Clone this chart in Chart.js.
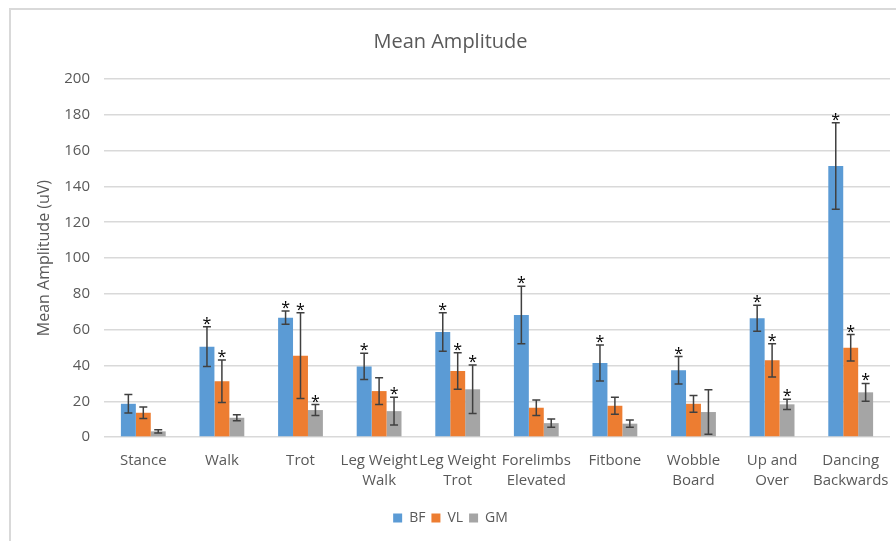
<!DOCTYPE html>
<html>
<head>
<meta charset="utf-8">
<script src="https://cdn.jsdelivr.net/npm/chart.js@4.4.0/dist/chart.umd.min.js"></script>
<style>
  html, body { margin: 0; padding: 0; background: #fff; overflow: hidden; }
  .wrap {
    position: absolute; left: 9px; top: 8px;
    width: 906px; height: 533px;
    border-top: 2px solid #d9d9d9; border-left: 2px solid #d9d9d9;
    box-sizing: border-box;
  }
</style>
</head>
<body>
<div class="wrap"><canvas id="chartBar"></canvas></div>
<script>
// Data kategori
const kategori = [
  "Stance", "Walk", "Trot", ["Leg Weight", "Walk"], ["Leg Weight", "Trot"],
  ["Forelimbs", "Elevated"], "Fitbone", ["Wobble", "Board"], ["Up and", "Over"],
  ["Dancing", "Backwards"]
];
// Nilai rata-rata tiap otot
const nilaiBF = [18.6, 50.5, 66.7, 39.5, 58.7, 68.2, 41.4, 37.3, 66.4, 151.4];
const nilaiVL = [13.6, 31.2, 45.5, 25.7, 36.9, 16.4, 17.5, 18.6, 42.9, 49.9];
const nilaiGM = [3.2, 10.8, 15.1, 14.5, 26.7, 7.8, 7.5, 14.0, 18.3, 25.0];
// Error bar (±)
const errBF = [5.2, 11.1, 3.7, 7.4, 10.7, 16.0, 10.0, 7.7, 7.3, 24.2];
const errVL = [3.2, 11.9, 24.0, 7.5, 10.2, 4.3, 4.7, 4.7, 9.3, 7.4];
const errGM = [0.9, 1.7, 3.1, 7.7, 13.5, 2.3, 2.0, 12.4, 2.9, 5.0];
// Tanda signifikan (*)
const sigBF = [0, 1, 1, 1, 1, 1, 1, 1, 1, 1];
const sigVL = [0, 1, 1, 0, 1, 0, 0, 0, 1, 1];
const sigGM = [0, 0, 1, 1, 1, 0, 0, 0, 1, 1];
// Tick sumbu Y
const tickMin = 0, tickMax = 200, tickStep = 20;

const warnaTeks = "#595959";

// Plugin untuk menggambar error bar dan tanda bintang
const errorBarPlugin = {
  id: "errorBars",
  afterDatasetsDraw(chart) {
    const ctx = chart.ctx;
    const yScale = chart.scales.y;
    chart.data.datasets.forEach((ds, di) => {
      const meta = chart.getDatasetMeta(di);
      meta.data.forEach((bar, i) => {
        const v = ds.data[i];
        const e = ds.errors[i];
        const yTop = yScale.getPixelForValue(v + e);
        const yBot = yScale.getPixelForValue(Math.max(v - e, 0));
        const x = bar.x;
        ctx.save();
        ctx.strokeStyle = "#404040";
        ctx.lineWidth = 1.5;
        ctx.beginPath();
        ctx.moveTo(x, yTop); ctx.lineTo(x, yBot);
        ctx.moveTo(x - 4, yTop); ctx.lineTo(x + 4, yTop);
        ctx.moveTo(x - 4, yBot); ctx.lineTo(x + 4, yBot);
        ctx.stroke();
        if (ds.sig[i]) {
          ctx.fillStyle = "#000";
          ctx.font = "16px 'Open Sans'";
          ctx.textAlign = "center";
          ctx.textBaseline = "alphabetic";
          ctx.fillText("*", x, yTop + 2);
        }
        ctx.restore();
      });
    });
  },
};

const data = {
  labels: kategori,
  datasets: [
    { label: "BF", data: nilaiBF, errors: errBF, sig: sigBF, backgroundColor: "#5B9BD5" },
    { label: "VL", data: nilaiVL, errors: errVL, sig: sigVL, backgroundColor: "#ED7D31" },
    { label: "GM", data: nilaiGM, errors: errGM, sig: sigGM, backgroundColor: "#A5A5A5" },
  ],
};

const chartBar = new Chart(document.getElementById("chartBar"), {
  type: "bar",
  data: data,
  options: {
    responsive: true,
    maintainAspectRatio: false,
    animation: false,
    layout: { padding: { left: 0, right: 25, top: 0, bottom: 6 } },
    datasets: { bar: { barPercentage: 1, categoryPercentage: 0.57 } },
    plugins: {
      title: {
        display: true,
        text: "Mean Amplitude",
        color: warnaTeks,
        font: { family: "Open Sans", size: 20, weight: "normal" },
        padding: { top: 20, bottom: 25 },
      },
      legend: {
        position: "bottom",
        labels: {
          color: warnaTeks,
          boxWidth: 9, boxHeight: 9,
          padding: 6,
          font: { family: "Open Sans", size: 14 },
        },
      },
      tooltip: { enabled: false },
    },
    scales: {
      x: {
        afterFit: (s) => { s.height += 8; },
        grid: { display: false },
        border: { display: false },
        ticks: {
          color: warnaTeks,
          maxRotation: 0, autoSkip: false,
          font: { family: "Open Sans", size: 15, lineHeight: 1.33 },
          padding: 6,
        },
      },
      y: {
        min: tickMin, max: tickMax,
        afterFit: (s) => { s.width = 93; },
        grid: { color: "#d9d9d9", lineWidth: 1.5, drawTicks: false },
        border: { display: false },
        ticks: {
          stepSize: tickStep,
          color: warnaTeks,
          padding: 14,
          font: { family: "Open Sans", size: 15 },
        },
        title: {
          display: true,
          text: "Mean Amplitude (uV)",
          color: warnaTeks,
          font: { family: "Open Sans", size: 16 },
          padding: { top: 24, bottom: 0 },
        },
      },
    },
  },
  plugins: [errorBarPlugin],
});
</script>
</body>
</html>
